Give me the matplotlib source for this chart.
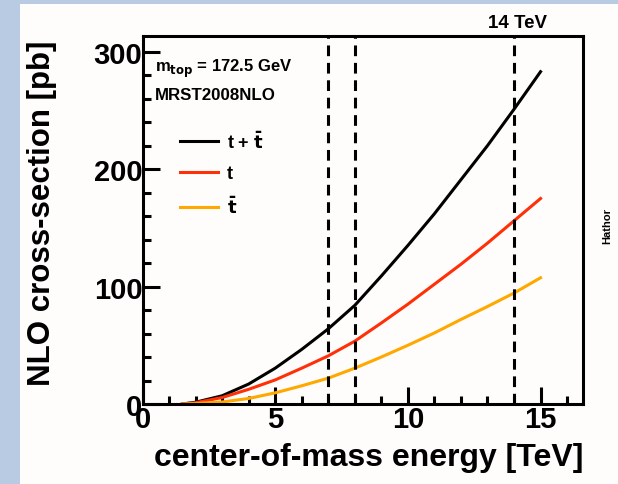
import numpy as np
import matplotlib
matplotlib.use("Agg")
import matplotlib.pyplot as plt
from matplotlib.patches import Rectangle
from matplotlib.ticker import MultipleLocator

plt.rcParams['font.family'] = ['Liberation Sans', 'DejaVu Sans']
plt.rcParams['font.weight'] = 'bold'

# single top cross sections vs. sqrt(s)
energy = [1.5, 2, 3, 4, 5, 6, 7, 8, 9, 10, 11, 12, 13, 14, 15]
sigma_sum = [0, 1.5, 7, 17, 30.5, 46.5, 64, 84, 109, 135, 162, 191, 220, 251, 283]
sigma_t = [0, 1.1, 5.5, 12.5, 20.5, 30.5, 41, 53.5, 69, 85, 102, 119, 137, 156, 175]
sigma_tbar = [0, 0.4, 1.7, 4.7, 9.5, 15.5, 22, 30.5, 40, 50, 60.5, 72, 83, 94.5, 107.5]
markers = [7, 8, 14]

fig = plt.figure(figsize=(6.18, 4.85), dpi=100)
fig.patch.set_facecolor('#b9cae3')
fig.patches.append(Rectangle((20 / 618, 0), 1, (485 - 5) / 485, transform=fig.transFigure,
                             facecolor='#fefdfb', edgecolor='none', zorder=-10))

ax = fig.add_axes([142.5 / 618, 80 / 485, 440.5 / 618, 368 / 485])
ax.set_facecolor('#fefdfb')

ax.plot(energy, sigma_sum, color='black', lw=2.2, label=r't + $\bar{\mathbf{t}}$')
ax.plot(energy, sigma_t, color='#ff3008', lw=2.2, label='t')
ax.plot(energy, sigma_tbar, color='#ffa800', lw=2.2, label=r'$\bar{\mathbf{t}}$')

for e in markers:
    ax.axvline(e, color='black', lw=2.2, ls=(0, (3.5, 2.2)))

ax.set_xlim(0, 16.6)
ax.set_ylim(0, 313.4)
ax.xaxis.set_major_locator(MultipleLocator(5))
ax.xaxis.set_minor_locator(MultipleLocator(1))
ax.yaxis.set_major_locator(MultipleLocator(100))
ax.yaxis.set_minor_locator(MultipleLocator(20))
ax.tick_params(which='both', direction='in', width=2.2, labelsize=21, top=False, right=False)
ax.tick_params(which='major', length=12)
ax.tick_params(which='minor', length=6)
ax.tick_params(axis='x', pad=1)
ax.tick_params(axis='y', pad=0)
for lab in ax.get_xticklabels() + ax.get_yticklabels():
    lab.set_fontweight('bold')
for s in ax.spines.values():
    s.set_linewidth(2.2)

ax.set_xlabel('center-of-mass energy [TeV]', fontsize=23, fontweight='bold', ha='right', va='center')
ax.xaxis.set_label_coords(1.0, -0.144)
ax.set_ylabel('NLO cross-section [pb]', fontsize=22.5, fontweight='bold', ha='right', va='center')
ax.yaxis.set_label_coords(-0.228, 0.99)

ax.text(0.028, 0.905, r'm$_{\mathbf{top}}$ = 172.5 GeV', transform=ax.transAxes, fontsize=12,
        fontweight='bold')
ax.text(0.028, 0.83, 'MRST2008NLO', transform=ax.transAxes, fontsize=12.2, fontweight='bold')
ax.text(14.15, 318, '14 TeV', ha='center', va='bottom', fontsize=13.5, fontweight='bold')
fig.text(607 / 618, 1 - 226 / 485, 'Hathor', rotation=90, ha='center', va='center',
         fontsize=8, fontweight='bold')

leg = ax.legend(loc='upper left', bbox_to_anchor=(0.069, 0.764), frameon=False,
                handlelength=2.1, handletextpad=0.5, labelspacing=0.75, borderaxespad=0,
                prop={'weight': 'bold', 'size': 13})

fig.savefig('out.png', dpi=100, facecolor=fig.get_facecolor())
